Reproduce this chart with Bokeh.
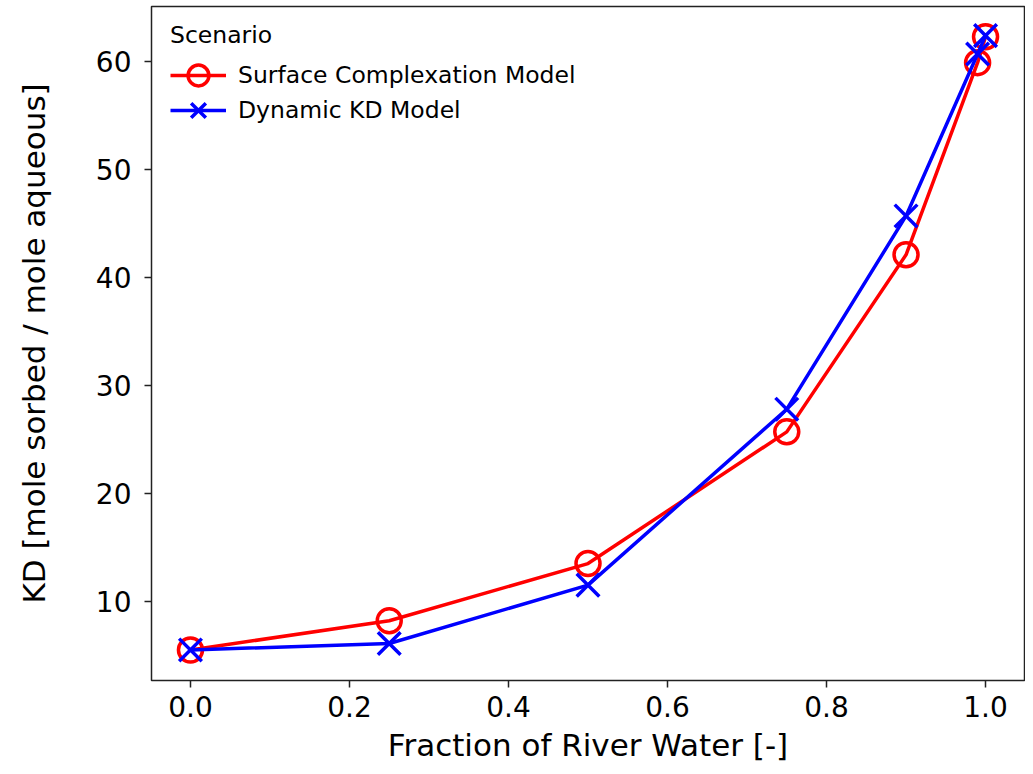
from bokeh.plotting import figure
from bokeh.models import FixedTicker, Legend, LegendItem, NumeralTickFormatter
from bokeh.embed import file_html
from bokeh.resources import INLINE

fraction = [0.0, 0.25, 0.5, 0.75, 0.9, 0.99, 1.0]
scm_kd = [5.5, 8.2, 13.5, 25.7, 42.1, 59.9, 62.3]
dyn_kd = [5.5, 6.1, 11.5, 27.8, 45.7, 60.7, 62.4]
x_ticks = [0.0, 0.2, 0.4, 0.6, 0.8, 1.0]
y_ticks = [10, 20, 30, 40, 50, 60]

FONT = "DejaVu Sans"

p = figure(width=1025, height=766, output_backend="svg", toolbar_location=None,
           x_range=(-0.049, 1.049), y_range=(2.67, 65.1),
           min_border_left=151, min_border_right=1, min_border_top=6, min_border_bottom=86)
p.grid.visible = False
p.background_fill_color = "white"
p.outline_line_color = "#222222"
p.outline_line_width = 1.5

for ax in (p.xaxis, p.yaxis):
    ax.axis_line_color = None
    ax.major_tick_line_color = "#222222"
    ax.major_tick_line_width = 1.5
    ax.major_tick_out = 7
    ax.major_tick_in = 0
    ax.minor_tick_line_color = None
    ax.major_label_text_font = FONT
    ax.major_label_text_font_size = "28px"
    ax.major_label_text_color = "black"
    ax.axis_label_text_font = FONT
    ax.axis_label_text_font_size = "31px"
    ax.axis_label_text_font_style = "normal"
    ax.axis_label_text_color = "black"

p.xaxis.ticker = FixedTicker(ticks=x_ticks)
p.xaxis.formatter = NumeralTickFormatter(format="0.0")
p.yaxis.ticker = FixedTicker(ticks=y_ticks)
p.xaxis.axis_label = "Fraction of River Water [-]"
p.yaxis.axis_label = "KD [mole sorbed / mole aqueous]"
p.xaxis.major_label_standoff = 8
p.yaxis.major_label_standoff = 13
p.xaxis.axis_label_standoff = 7
p.yaxis.axis_label_standoff = 41

r1l = p.line(fraction, scm_kd, line_color="red", line_width=3.5)
r1m = p.scatter(fraction, scm_kd, marker="circle", size=24, fill_color=None,
                line_color="red", line_width=3.5)
r2l = p.line(fraction, dyn_kd, line_color="blue", line_width=3.5)
r2m = p.scatter(fraction, dyn_kd, marker="x", size=32, line_color="blue", line_width=3.5)


def style_legend(lg):
    lg.title_text_font = FONT
    lg.title_text_font_size = "23.5px"
    lg.title_text_font_style = "normal"
    lg.title_text_color = "black"
    lg.label_text_font = FONT
    lg.label_text_font_size = "23.5px"
    lg.label_text_color = "black"
    lg.border_line_color = None
    lg.background_fill_alpha = 0
    lg.glyph_width = 56
    lg.glyph_height = 52
    lg.label_height = 52
    lg.label_standoff = 12
    lg.spacing = 0
    lg.padding = 0
    lg.margin = 0
    lg.title_standoff = 0


legend_a = Legend(items=[LegendItem(label="Surface Complexation Model", renderers=[r1l, r1m])],
                  location=(19, 579), title="Scenario")
legend_b = Legend(items=[LegendItem(label="Dynamic KD Model", renderers=[r2l, r2m])],
                  location=(19, 544))
style_legend(legend_a)
style_legend(legend_b)
p.add_layout(legend_a)
p.add_layout(legend_b)

open("out.html", "w").write(file_html(p, INLINE))
